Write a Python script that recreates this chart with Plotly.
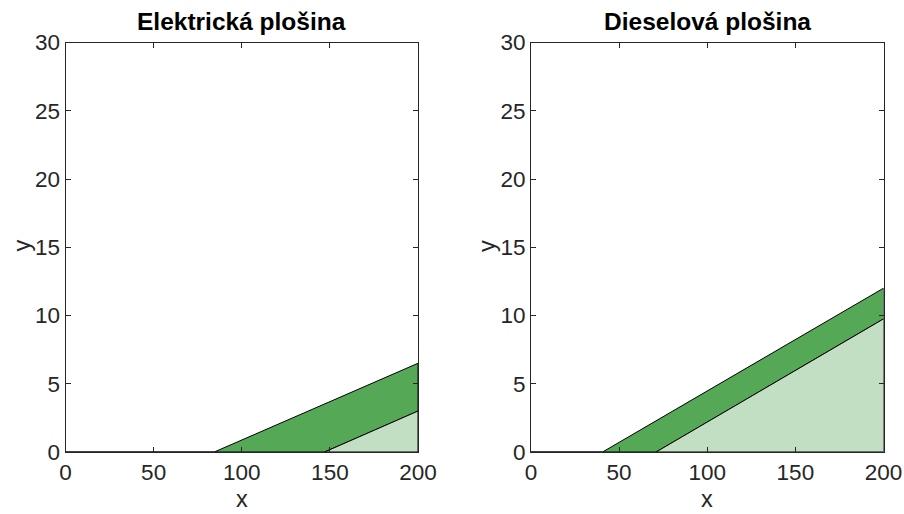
import plotly.graph_objects as go

# Data
titles = ["Elektrická plošina", "Dieselová plošina"]
x_ticks = [0, 50, 100, 150, 200]
y_ticks = [0, 5, 10, 15, 20, 25, 30]

# boundary lines (start on y=0, end at x=200)
elec_upper_x = [84.4, 200]
elec_upper_y = [0, 6.5]
elec_lower_x = [147, 200]
elec_lower_y = [0, 3.0]

dies_upper_x = [40.6, 200]
dies_upper_y = [0, 12.0]
dies_lower_x = [71, 200]
dies_lower_y = [0, 9.75]

x_min, x_max = 0, 200
y_min, y_max = 0, 30

DARK = "#55a855"
LIGHT = "#c3dfc3"
AX = "#262626"

fig = go.Figure()

panels = [
    (elec_upper_x, elec_upper_y, elec_lower_x, elec_lower_y, "x", "y"),
    (dies_upper_x, dies_upper_y, dies_lower_x, dies_lower_y, "x2", "y2"),
]

for ux, uy, lx, ly, xa, ya in panels:
    fig.add_trace(go.Scatter(x=[x_min, ux[0]], y=[0, 0], mode="lines",
                             line=dict(color="black", width=1.6),
                             xaxis=xa, yaxis=ya, showlegend=False, hoverinfo="skip"))
    fig.add_trace(go.Scatter(x=[ux[0], ux[1], lx[1], lx[0], ux[0]],
                             y=[uy[0], uy[1], ly[1], ly[0], uy[0]],
                             mode="lines", fill="toself", fillcolor=DARK,
                             line=dict(color="black", width=1),
                             xaxis=xa, yaxis=ya, showlegend=False, hoverinfo="skip"))
    fig.add_trace(go.Scatter(x=[lx[0], lx[1], lx[1], lx[0]],
                             y=[ly[0], ly[1], 0, ly[0]],
                             mode="lines", fill="toself", fillcolor=LIGHT,
                             line=dict(color="black", width=1),
                             xaxis=xa, yaxis=ya, showlegend=False, hoverinfo="skip"))

# body margin is removed by post_script, so figure coords = page coords
W, H = 904, 514


def px_x(p):
    return p / W


def px_y(p):
    return 1 - p / H


dom_x1 = [px_x(65.5), px_x(418)]
dom_x2 = [px_x(531), px_x(883.5)]
dom_y = [px_y(452), px_y(42.5)]

FONT = "Liberation Sans, Arial"
axis_common = dict(
    showline=True, linecolor=AX, linewidth=1, mirror="ticks",
    ticks="inside", ticklen=5, tickwidth=1, tickcolor=AX,
    showgrid=False, zeroline=False, automargin=False,
    tickfont=dict(family=FONT, size=22.5, color=AX),
)

fig.update_layout(
    width=W, height=H,
    margin=dict(l=0, r=0, t=0, b=0),
    paper_bgcolor="white", plot_bgcolor="white",
    xaxis=dict(domain=dom_x1, range=[x_min, x_max], tickvals=x_ticks, anchor="y", **axis_common),
    yaxis=dict(domain=dom_y, range=[y_min, y_max], tickvals=y_ticks, anchor="x", **axis_common),
    xaxis2=dict(domain=dom_x2, range=[x_min, x_max], tickvals=x_ticks, anchor="y2", **axis_common),
    yaxis2=dict(domain=dom_y, range=[y_min, y_max], tickvals=y_ticks, anchor="x2", **axis_common),
)

annos = []
for i, (l, r) in enumerate([(65.5, 418), (531, 883.5)]):
    cx = px_x((l + r) / 2)
    annos.append(dict(text="<b>" + titles[i] + "</b>", x=cx, y=px_y(22), xref="paper", yref="paper",
                      xanchor="center", yanchor="middle", showarrow=False,
                      font=dict(family=FONT, size=24.5, color="black")))
    annos.append(dict(text="x", x=cx, y=0, xref="paper", yref="paper",
                      xanchor="center", yanchor="bottom", showarrow=False,
                      font=dict(family=FONT, size=23.5, color=AX)))
    annos.append(dict(text="y", x=px_x(l - 44), y=px_y(246), xref="paper", yref="paper",
                      xanchor="center", yanchor="middle", showarrow=False, textangle=-90,
                      font=dict(family=FONT, size=23.5, color=AX)))
fig.update_layout(annotations=annos)

fig.write_html("out.html", config={"displayModeBar": False},
               post_script="document.body.style.margin='0';document.body.style.overflow='hidden';")
